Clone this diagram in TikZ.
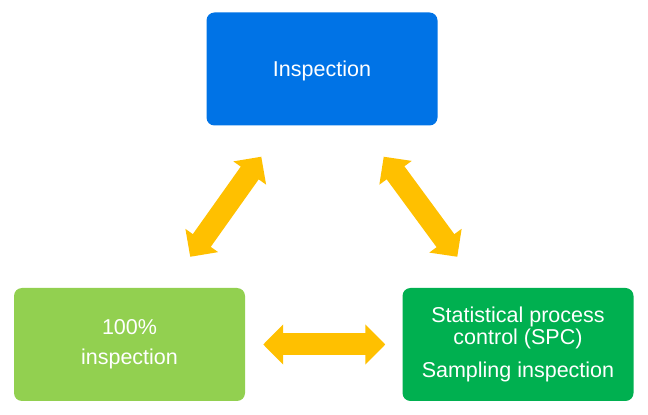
\documentclass[tikz,border=0pt]{standalone}
\usepackage{fontspec}
\setmainfont{Liberation Sans}
\usepackage{tikz}
\usetikzlibrary{arrows.meta}
\usetikzlibrary{calc}

\definecolor{boxblue}{HTML}{0073E6}
\definecolor{lightgreen}{HTML}{92D050}
\definecolor{darkgreen}{HTML}{00B050}
\definecolor{arrowgold}{HTML}{FFC000}

\begin{document}
\begin{tikzpicture}[x=1pt, y=1pt,
	box/.style={rounded corners=8pt, text=white, align=center, inner sep=0pt,
		minimum width=231pt, minimum height=113pt},
	link/.style={arrowgold, line width=22pt,
		{Triangle[length=20pt,width=39pt]}-{Triangle[length=20pt,width=39pt]}}]
\useasboundingbox (0,0) rectangle (648,415);
\node[box, fill=boxblue, text depth=0pt, font=\fontsize{21.5}{24}\selectfont] (insp) at (322,346) {Inspection};
\node[box, fill=lightgreen, font=\fontsize{21.5}{30}\selectfont] (full) at (129.5,70.5) {100\%\\inspection};
\node[box, fill=darkgreen, font=\fontsize{21.5}{22}\selectfont] (spc) at (518,70.5)
	{Statistical process\\control (SPC)\\[11pt]Sampling inspection};
\draw[link] ($(full.north east)+(-55,31)$) -- ($(insp.south west)+(55,-31)$);
\draw[link] ($(spc.north west)+(55,31)$) -- ($(insp.south east)+(-54,-31)$);
\draw[link] ($(full.east)+(18,0)$) -- ($(spc.west)+(-17,0)$);
\end{tikzpicture}
\end{document}
